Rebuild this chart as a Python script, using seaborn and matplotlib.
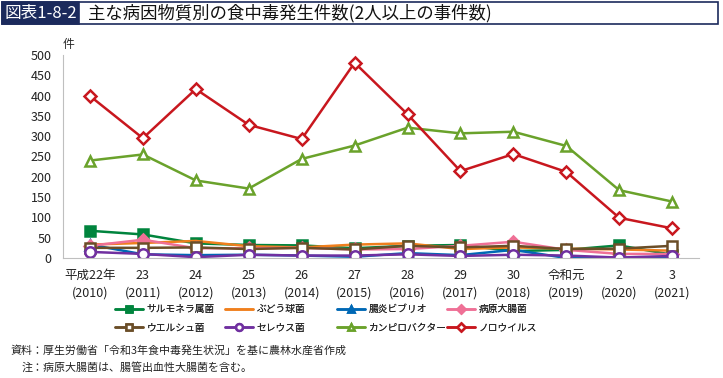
import matplotlib
matplotlib.use("Agg")
import matplotlib.pyplot as plt
from matplotlib.patches import Rectangle
import numpy as np
import pandas as pd
import seaborn as sns

years = ["平成22年\n(2010)", "23\n(2011)", "24\n(2012)", "25\n(2013)", "26\n(2014)",
         "27\n(2015)", "28\n(2016)", "29\n(2017)", "30\n(2018)", "令和元\n(2019)",
         "2\n(2020)", "3\n(2021)"]

salmonella = [67, 58, 36, 32, 31, 24, 30, 32, 17, 20, 31, 8]
staph = [33, 37, 42, 29, 26, 33, 36, 22, 26, 23, 21, 18]
vibrio = [33, 9, 7, 8, 6, 3, 12, 7, 20, 0, 1, 0]
ecoli = [30, 45, 24, 24, 25, 21, 22, 30, 40, 20, 10, 10]
perfringens = [25, 25, 26, 22, 25, 21, 30, 26, 30, 22, 23, 30]
cereus = [15, 10, 2, 8, 6, 6, 9, 5, 8, 6, 1, 5]
campylobacter = [240, 255, 191, 171, 244, 277, 321, 307, 311, 276, 167, 139]
norovirus = [399, 295, 416, 328, 293, 481, 354, 214, 256, 212, 99, 73]

series = [
    ("サルモネラ属菌", salmonella, "#00843d", "s", "#00843d"),
    ("ぶどう球菌", staph, "#f07f1d", None, None),
    ("腸炎ビブリオ", vibrio, "#0068b5", "^", "#0068b5"),
    ("病原大腸菌", ecoli, "#ef7096", "D", "#ef7096"),
    ("ウエルシュ菌", perfringens, "#6b4e28", "s", "white"),
    ("セレウス菌", cereus, "#7030a0", "o", "white"),
    ("カンピロバクター", campylobacter, "#6aa22b", "^", "white"),
    ("ノロウイルス", norovirus, "#c8171e", "D", "white"),
]

sns.set_style("white")
plt.rcParams["font.family"] = ["Noto Sans CJK JP", "DejaVu Sans"]

fig = plt.figure(figsize=(7.23, 3.78), dpi=100)
ax = fig.add_axes([0.0871, 0.3175, 0.8799, 0.537])

x = np.arange(len(years))
for name, vals, color, marker, face in series:
    df = pd.DataFrame({"x": x, "y": vals})
    kw = dict(color=color, linewidth=1.8, label=name)
    if marker is not None:
        ms = 7.5 if marker != "D" else 6.5
        kw.update(marker=marker, markersize=ms, markerfacecolor=face,
                  markeredgecolor=color, markeredgewidth=1.8)
    sns.lineplot(data=df, x="x", y="y", ax=ax, **kw)

ax.set_xlim(-0.51, 11.51)
ax.set_ylim(0, 500)
ax.set_yticks(range(0, 501, 50))
ax.set_xticks(x)
ax.set_xticklabels(years, linespacing=1.45)
ax.tick_params(axis="both", labelsize=9, length=0, colors="#222222")
ax.tick_params(axis="x", pad=8)
ax.tick_params(axis="y", pad=8)
ax.set_xlabel("")
ax.set_ylabel("")
for side in ["top", "right"]:
    ax.spines[side].set_visible(False)
for side in ["left", "bottom"]:
    ax.spines[side].set_color("#bfbfbf")
    ax.spines[side].set_linewidth(0.8)
ax.text(0.0, 1.02, "件", transform=ax.transAxes, fontsize=8.5, ha="left", va="bottom")

handles, labels = ax.get_legend_handles_labels()
if ax.get_legend():
    ax.get_legend().remove()
# one small legend per column, rows: top = first four, bottom = last four
col_x = [118, 228, 340, 450]
for c, px in enumerate(col_x):
    idx = [c, c + 4]
    leg = fig.legend([handles[i] for i in idx], [labels[i] for i in idx],
                     loc="upper left", bbox_to_anchor=(px / 723 - 0.004, 1 - 304 / 378),
                     frameon=False, fontsize=7.0, markerscale=0.65, handlelength=2.9,
                     handletextpad=0.35, labelspacing=0.9, borderpad=0, borderaxespad=0)
    fig.add_artist(leg)

# title bar
fig.patches.append(Rectangle((0.003, 0.937), 0.99, 0.058, transform=fig.transFigure,
                             facecolor="white", edgecolor="#1b2a5c", linewidth=1.2))
fig.patches.append(Rectangle((0.003, 0.937), 0.106, 0.058, transform=fig.transFigure,
                             facecolor="#1b2a5c", edgecolor="#1b2a5c", linewidth=1.2))
fig.text(0.056, 0.964, "図表1-8-2", color="white", fontsize=12, ha="center", va="center")
fig.text(0.122, 0.964, "主な病因物質別の食中毒発生件数(2人以上の事件数)", color="#111111",
         fontsize=12.5, ha="left", va="center")

fig.text(0.014, 0.074, "資料：厚生労働省「令和3年食中毒発生状況」を基に農林水産省作成",
         fontsize=7.9, ha="left", va="center", color="#222222")
fig.text(0.030, 0.029, "注：病原大腸菌は、腸管出血性大腸菌を含む。",
         fontsize=7.9, ha="left", va="center", color="#222222")

fig.savefig("out.png", dpi=100)
